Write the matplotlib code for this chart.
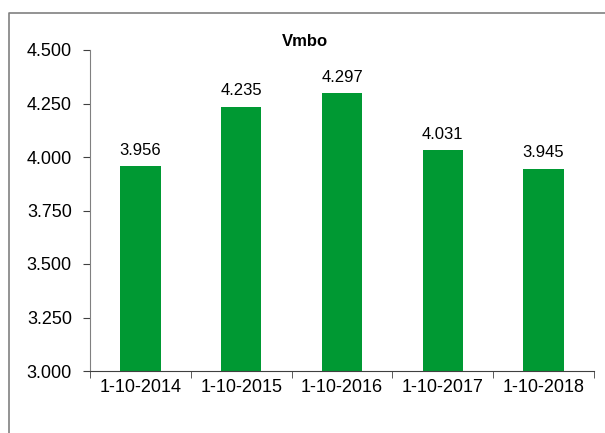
import numpy as np
import matplotlib
matplotlib.use("Agg")
import matplotlib.pyplot as plt

plt.rcParams['font.family'] = ['Liberation Sans', 'DejaVu Sans']

# 数据
categories = ["1-10-2014", "1-10-2015", "1-10-2016", "1-10-2017", "1-10-2018"]
values = [3.956, 4.235, 4.297, 4.031, 3.945]
y_ticks = [3.0, 3.25, 3.5, 3.75, 4.0, 4.25, 4.5]

BAR_C = "#009933"
AXIS_C = "#808080"

fig = plt.figure(figsize=(6.05, 4.33), dpi=100, facecolor="white")
ax = fig.add_axes([90 / 605, 1 - 371 / 433, (594 - 90) / 605, (371 - 50) / 433])

x = np.arange(len(categories))
bars = ax.bar(x, [v - 3.0 for v in values], bottom=3.0, width=0.4, color=BAR_C)

ax.set_xlim(-0.5, len(categories) - 0.5)
ax.set_ylim(3.0, 4.5)
ax.set_yticks(y_ticks)
ax.set_yticklabels([f"{t:.3f}" for t in y_ticks], fontsize=13)
ax.set_xticks(x)
ax.set_xticklabels(categories, fontsize=13)
# x 轴刻度在类别边界
ax.set_xticks(np.arange(-0.5, len(categories), 1), minor=True)
ax.tick_params(axis="x", which="major", length=0, pad=6)
ax.tick_params(axis="x", which="minor", length=5, color="#404040", direction="out")
ax.tick_params(axis="y", length=5, color="#404040", direction="out", pad=8)

for s in ["top", "right"]:
    ax.spines[s].set_visible(False)
ax.spines["left"].set_color(AXIS_C)
ax.spines["bottom"].set_color("#404040")

# 数值标注
for b, v in zip(bars, values):
    ax.text(b.get_x() + b.get_width() / 2, v + 0.04, f"{v:.3f}",
            ha="center", va="bottom", fontsize=12, color="black")

fig.text(305 / 605, 1 - 41 / 433, "Vmbo", ha="center", va="center",
         fontsize=12, fontweight="bold")

# 外框（左、上）
fig.add_artist(plt.Line2D([9 / 605, 9 / 605, 1.0], [0.0, 1 - 13 / 433, 1 - 13 / 433],
                          transform=fig.transFigure, color=AXIS_C, linewidth=1.2))

fig.savefig("out.png", dpi=100, facecolor="white")
